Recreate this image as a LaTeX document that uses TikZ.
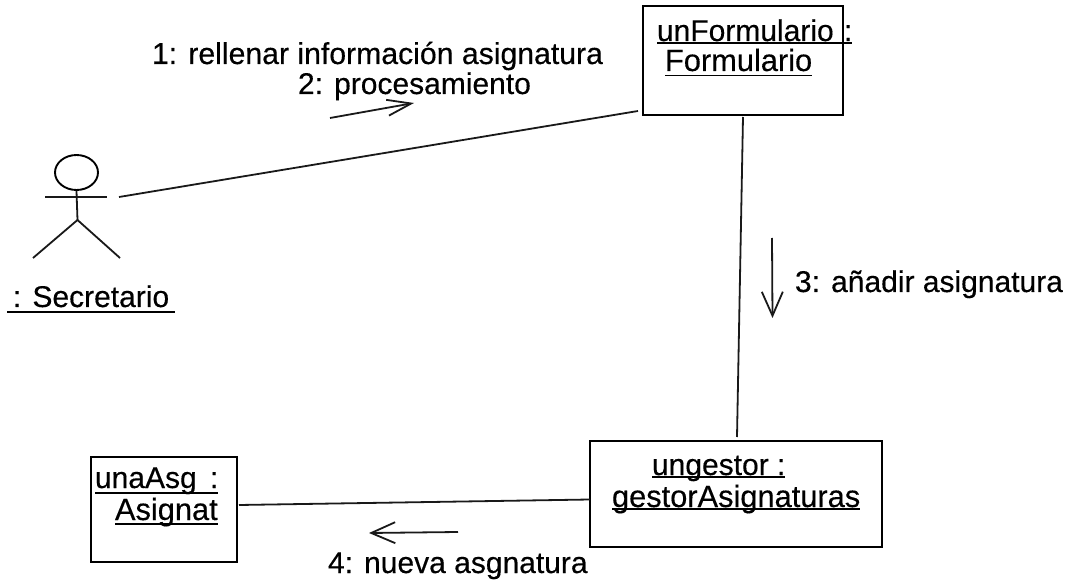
\documentclass[tikz,border=0pt]{standalone}
\usepackage{fontspec}
\setmainfont[FakeBold=0.35]{Liberation Sans}
\usetikzlibrary{arrows.meta,shapes.geometric}
\newsavebox{\ulbox}
\newcommand{\ulin}[2][3]{\sbox{\ulbox}{#2}\leavevmode\rlap{\rule[-#1pt]{\wd\ulbox}{1.8pt}}\usebox{\ulbox}}
\tikzset{
  ink/.style={line width=1.8pt,draw=black!90},
  obj/.style={rectangle,draw=black,line width=2.2pt,fill=none,inner sep=0pt},
  txt/.style={anchor=base west,inner sep=0pt,outer sep=0pt,text=black,font=\fontsize{30}{32}\selectfont},
  wide/.style={font=\fontsize{30.8}{32}\selectfont},
  msg/.style={ink,-{Straight Barb[length=24pt,width=21pt,line width=1.8pt]}},
  msgsmall/.style={ink,-{Straight Barb[length=24pt,width=16pt,line width=1.8pt]}},
}
\begin{document}
\begin{tikzpicture}[x=1pt,y=-1pt]
\useasboundingbox (0,0) rectangle (1069,580);
% objects
\node[obj,minimum width=200pt,minimum height=109pt] (form) at (743,60.5) {};
\node[obj,minimum width=292pt,minimum height=106pt] (gestor) at (736,494) {};
\node[obj,minimum width=146pt,minimum height=105pt] (asg) at (164,509.5) {};
% actor
\node[ellipse,draw=black,line width=1.9pt,minimum width=43pt,minimum height=35pt,inner sep=0pt] (head) at (76.5,172.5) {};
\coordinate (armL) at (45,197);
\coordinate (armR) at (107,197);
\coordinate (hip) at (77.5,220);
\coordinate (footL) at (33,258);
\coordinate (footR) at (120,258);
\draw[ink] (head.south) -- (hip);
\draw[ink,line width=2.6pt] (armL) -- (armR);
\draw[ink] (footL) -- (hip) -- (footR);
% links
\coordinate (actorEnd) at (119,197);
\coordinate (formEnd) at (638,111);
\coordinate (formDown) at (743,117);
\coordinate (gestorUp) at (737,437);
\coordinate (asgEnd) at (239,505);
\coordinate (gestorLeft) at (590,499.5);
\draw[ink] (actorEnd) -- (formEnd);
\draw[ink] (formDown) -- (gestorUp);
\draw[ink] (asgEnd) -- (gestorLeft);
% message arrows
\coordinate (m2a) at (330,118);
\coordinate (m2b) at (414,103);
\coordinate (m3a) at (772,238);
\coordinate (m3b) at (772.5,318);
\coordinate (m4a) at (458,532);
\coordinate (m4b) at (369,533);
\draw[msgsmall] (m2a) -- (m2b);
\draw[msg] (m3a) -- (m3b);
\draw[msg] (m4a) -- (m4b);
% labels
\node[txt,font=\fontsize{30.2}{32}\selectfont] (l1) at (152,64) {1: rellenar información asignatura};
\node[txt] (l2) at (298,94) {2: procesamiento};
\node[txt] (l3) at (795,292) {3: añadir asignatura};
\node[txt] (l4) at (328,573) {4: nueva asgnatura};
\node[txt] (sec) at (7,307) {\ulin[5.5]{\hspace{6pt}: Secretario\hspace{6pt}}};
\node[txt] (f1) at (657,41) {\ulin[3]{unFormulario\hspace{2pt} :}};
\node[txt,wide] (f2) at (665,71) {\ulin[5.5]{Formulario}};
\node[txt] (g1) at (652,475) {\ulin[3]{ungestor :}};
\node[txt,wide] (g2) at (612,507) {\ulin[3]{gestorAsignaturas}};
\node[txt] (a1) at (95,488) {\ulin[5.5]{unaAsg\hspace{5pt} :}};
\node[txt,wide] (a2) at (115,520) {\ulin[5]{Asignat}};
\end{tikzpicture}
\end{document}
